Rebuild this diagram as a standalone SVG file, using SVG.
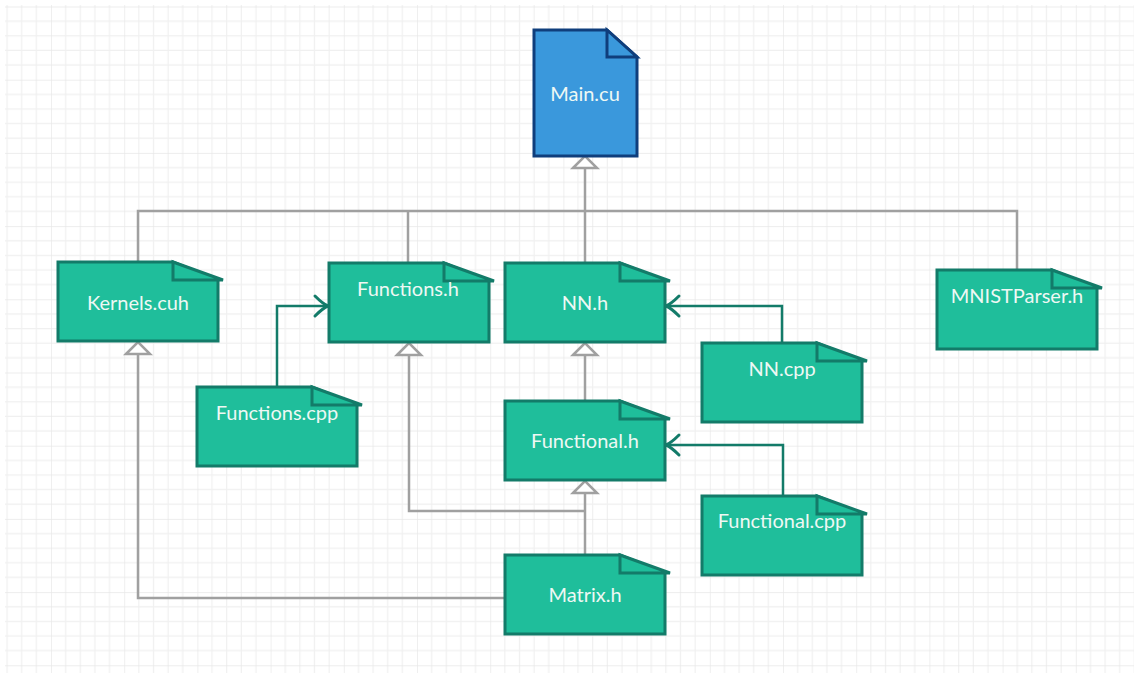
<svg xmlns="http://www.w3.org/2000/svg" xmlns:xlink="http://www.w3.org/1999/xlink" width="1134" height="673" viewBox="0 0 1134 673">
  <style>
    .doc { fill: #1fbe9b; stroke: #137b69; stroke-width: 3; stroke-linejoin: miter; }
    .doc-main { fill: #3a98dc; stroke: #0f3e7c; stroke-width: 3; }
    .label { font-family: Lato, "Open Sans", "Liberation Sans", sans-serif; font-size: 20px; fill: #eef8f4; text-anchor: middle; }
    .dep { fill: none; stroke: #a0a0a0; stroke-width: 2.5; }
    .impl { fill: none; stroke: #137b69; stroke-width: 2.5; }
  </style>
  <defs>
    <pattern id="grid" patternUnits="userSpaceOnUse" x="-22.2" y="6.5" width="73.2" height="73.2">
      <path d="M14.64,0 V73.2 M29.28,0 V73.2 M43.92,0 V73.2 M58.56,0 V73.2 M0,14.64 H73.2 M0,29.28 H73.2 M0,43.92 H73.2 M0,58.56 H73.2" stroke="#f0f0f0" stroke-width="1.2" fill="none"/>
      <path d="M0,0 V73.2 M0,0 H73.2" stroke="#e7e7e7" stroke-width="1.3" fill="none"/>
    </pattern>
    <!-- hollow triangle for header dependencies -->
    <marker id="tri" markerUnits="userSpaceOnUse" markerWidth="30" markerHeight="30" refX="0" refY="15" orient="auto" overflow="visible">
      <path d="M0,3 L12,15 L0,27 Z" fill="#ffffff" stroke="#a0a0a0" stroke-width="2.5" stroke-linejoin="miter"/>
    </marker>
    <!-- open chevron for implementation links -->
    <marker id="chev" markerUnits="userSpaceOnUse" markerWidth="30" markerHeight="30" refX="15" refY="15" orient="auto" overflow="visible">
      <path d="M2,5 Q10,13 15,15 Q10,17 2,25" fill="none" stroke="#137b69" stroke-width="3" stroke-linecap="round"/>
    </marker>
    <!-- folded-corner file shape, 160 x 79 -->
    <g id="file">
      <path class="doc" d="M0,0 H115 L160,18 V79 H0 Z"/>
      <path class="doc" d="M115,0 V18 H165 Z"/>
    </g>
  </defs>

  <!-- background grid -->
  <rect x="0" y="0" width="1134" height="673" fill="#ffffff"/>
  <rect x="5" y="5" width="1129" height="668" fill="url(#grid)"/>

  <g id="connectors">
    <path class="dep" d="M138,262 V211 H1017 V270"/>
    <path class="dep" d="M408,263 V211"/>
    <path class="dep" d="M585,263 V168" marker-end="url(#tri)"/>
    <path class="dep" d="M585,401 V355" marker-end="url(#tri)"/>
    <path class="dep" d="M585,555 V493" marker-end="url(#tri)"/>
    <path class="dep" d="M585,511 H409 V355" marker-end="url(#tri)"/>
    <path class="dep" d="M505,598 H138 V354" marker-end="url(#tri)"/>
    <path class="impl" d="M277,387 V306 H328" marker-end="url(#chev)"/>
    <path class="impl" d="M782,343 V306 H666" marker-end="url(#chev)"/>
    <path class="impl" d="M783,496 V445 H666" marker-end="url(#chev)"/>
  </g>

  <g id="node-main">
    <path class="doc-main" d="M534,30 H607 L637,57 V156 H534 Z"/>
    <path class="doc-main" d="M607,30 V57 H637 Z"/>
    <text class="label" x="585" y="101">Main.cu</text>
  </g>

  <g id="node-kernels" transform="translate(58,262)">
    <use xlink:href="#file"/>
    <text class="label" x="80" y="48">Kernels.cuh</text>
  </g>

  <g id="node-functions-h" transform="translate(329,263)">
    <use xlink:href="#file"/>
    <text class="label" x="79" y="33">Functions.h</text>
  </g>

  <g id="node-functions-cpp" transform="translate(197,387)">
    <use xlink:href="#file"/>
    <text class="label" x="80" y="33">Functions.cpp</text>
  </g>

  <g id="node-nn-h" transform="translate(505,263)">
    <use xlink:href="#file"/>
    <text class="label" x="80" y="47">NN.h</text>
  </g>

  <g id="node-nn-cpp" transform="translate(702,343)">
    <use xlink:href="#file"/>
    <text class="label" x="80" y="33">NN.cpp</text>
  </g>

  <g id="node-functional-h" transform="translate(505,401)">
    <use xlink:href="#file"/>
    <text class="label" x="80" y="47">Functional.h</text>
  </g>

  <g id="node-functional-cpp" transform="translate(702,496)">
    <use xlink:href="#file"/>
    <text class="label" x="80" y="32">Functional.cpp</text>
  </g>

  <g id="node-matrix" transform="translate(505,555)">
    <use xlink:href="#file"/>
    <text class="label" x="80" y="47">Matrix.h</text>
  </g>

  <g id="node-mnist" transform="translate(937,270)">
    <use xlink:href="#file"/>
    <text class="label" x="80" y="33">MNISTParser.h</text>
  </g>
</svg>
